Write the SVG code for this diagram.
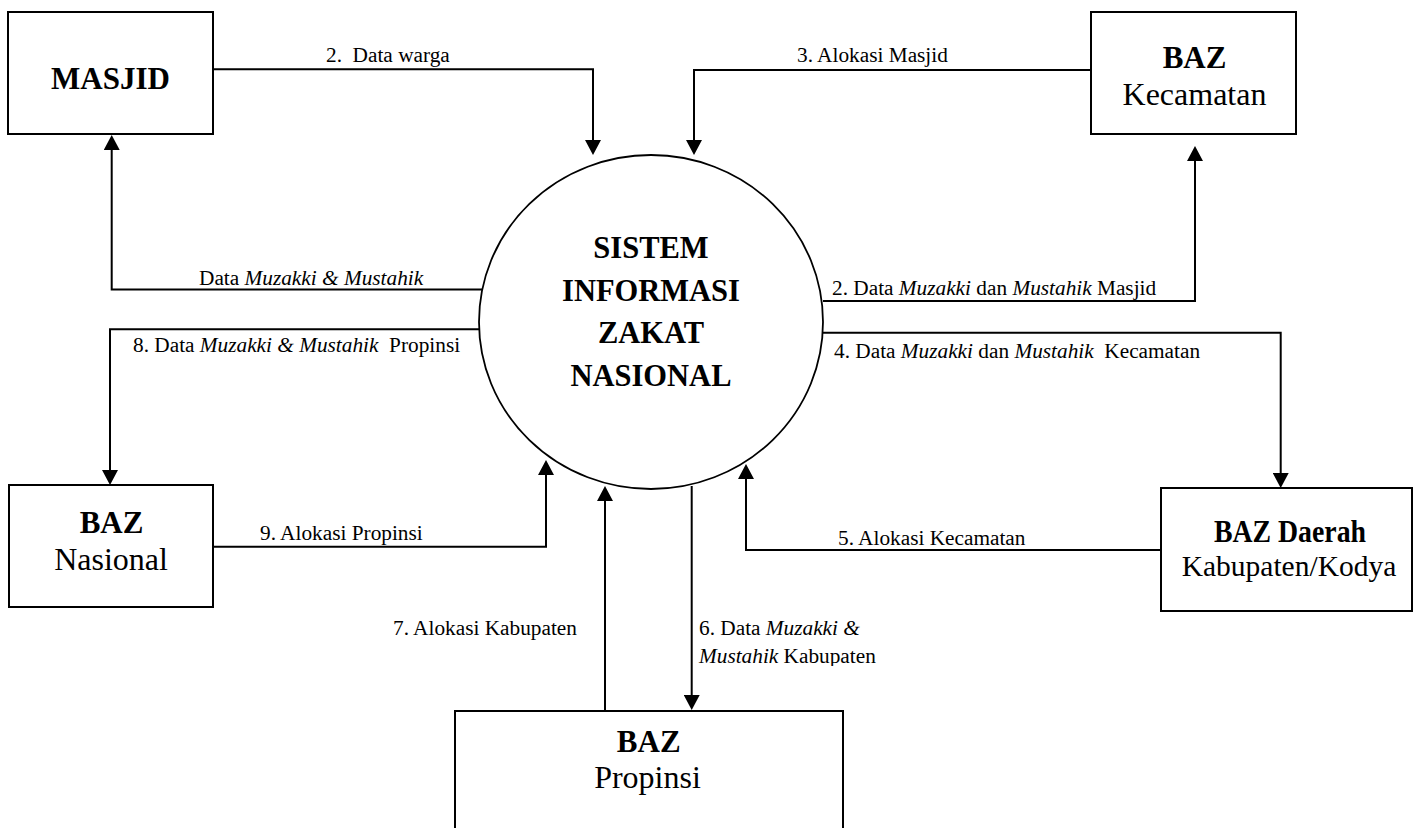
<svg xmlns="http://www.w3.org/2000/svg" width="1414" height="828" viewBox="0 0 1414 828">
<defs>
<style>
text{font-family:"Liberation Serif","Times New Roman",serif;fill:#000;white-space:pre}
.box{fill:#fff;stroke:#000;stroke-width:2}
.proc{fill:#fff;stroke:#000;stroke-width:1.8}
.flow{fill:none;stroke:#000;stroke-width:2}
.lbl{font-size:21.3px}
.t{font-size:31px;font-weight:bold;text-anchor:middle}
.s{font-size:32px;text-anchor:middle}
.c{font-size:30.5px;font-weight:bold;text-anchor:middle}
.i{font-style:italic}
</style>
<marker id="ah" markerUnits="userSpaceOnUse" markerWidth="15" markerHeight="16" refX="0" refY="8" orient="auto" viewBox="0 0 15 16"><path d="M0,0 L15,8 L0,16 z" fill="#000"/></marker>
<clipPath id="clip6"><rect x="690" y="600" width="260" height="66"/></clipPath>
</defs>
<rect width="1414" height="828" fill="#fff"/>

<g id="masjid">
<rect class="box" x="8" y="12" width="205" height="122"/>
<text class="t" x="110.5" y="89">MASJID</text>
</g>

<g id="baz-kecamatan">
<rect class="box" x="1091" y="12" width="205" height="122"/>
<text class="t" x="1194.5" y="68.3">BAZ</text>
<text class="s" x="1194.5" y="105">Kecamatan</text>
</g>

<g id="baz-nasional">
<rect class="box" x="9" y="485" width="204" height="122"/>
<text class="t" x="111.5" y="532.7">BAZ</text>
<text class="s" x="111" y="570">Nasional</text>
</g>

<g id="baz-daerah">
<rect class="box" x="1161" y="488" width="251" height="123"/>
<text class="t" x="1290" y="541.7" textLength="152" lengthAdjust="spacingAndGlyphs">BAZ Daerah</text>
<text class="s" style="font-size:29.5px" x="1289" y="575.7">Kabupaten/Kodya</text>
</g>

<g id="baz-propinsi">
<rect class="box" x="455" y="711" width="388" height="140"/>
<text class="t" x="648.7" y="751.7">BAZ</text>
<text class="s" x="647.5" y="788.3">Propinsi</text>
</g>

<g id="sistem-informasi-zakat">
<ellipse class="proc" cx="651" cy="322" rx="172" ry="167"/>
<text class="c" x="651" y="258">SISTEM</text>
<text class="c" x="651" y="301">INFORMASI</text>
<text class="c" x="651" y="343">ZAKAT</text>
<text class="c" x="651" y="386">NASIONAL</text>
</g>

<g id="connectors">
<path class="flow" d="M213,69.3 H593 V140" marker-end="url(#ah)"/>
<text class="lbl" x="326" y="62">2.  Data warga</text>

<path class="flow" d="M1091,70 H694 V140" marker-end="url(#ah)"/>
<text class="lbl" x="797" y="62">3. Alokasi Masjid</text>

<path class="flow" d="M482,289.5 H111.7 V150" marker-end="url(#ah)"/>
<text class="lbl" x="199" y="285">Data <tspan class="i">Muzakki &amp; Mustahik</tspan></text>

<path class="flow" d="M823,301 H1195 V161" marker-end="url(#ah)"/>
<text class="lbl" x="832" y="295">2. Data <tspan class="i">Muzakki</tspan> dan <tspan class="i">Mustahik</tspan> Masjid</text>

<path class="flow" d="M822,332.7 H1280.7 V473" marker-end="url(#ah)"/>
<text class="lbl" x="834" y="357.7">4. Data <tspan class="i">Muzakki</tspan> dan <tspan class="i">Mustahik</tspan>  Kecamatan</text>

<path class="flow" d="M1161,550 H746 V479" marker-end="url(#ah)"/>
<text class="lbl" x="838" y="545">5. Alokasi Kecamatan</text>

<path class="flow" d="M691.7,486 V695" marker-end="url(#ah)"/>
<text class="lbl" x="699" y="635">6. Data <tspan class="i">Muzakki &amp;</tspan></text>
<text class="lbl" x="699" y="663.3" clip-path="url(#clip6)"><tspan class="i">Mustahik</tspan> Kabupaten</text>

<path class="flow" d="M605,711 V501" marker-end="url(#ah)"/>
<text class="lbl" x="393" y="635">7. Alokasi Kabupaten</text>

<path class="flow" d="M480,329.3 H110 V470" marker-end="url(#ah)"/>
<text class="lbl" x="133" y="351.7">8. Data <tspan class="i">Muzakki &amp; Mustahik</tspan>  Propinsi</text>

<path class="flow" d="M213,546.7 H546 V475" marker-end="url(#ah)"/>
<text class="lbl" x="260" y="540">9. Alokasi Propinsi</text>
</g>
</svg>
